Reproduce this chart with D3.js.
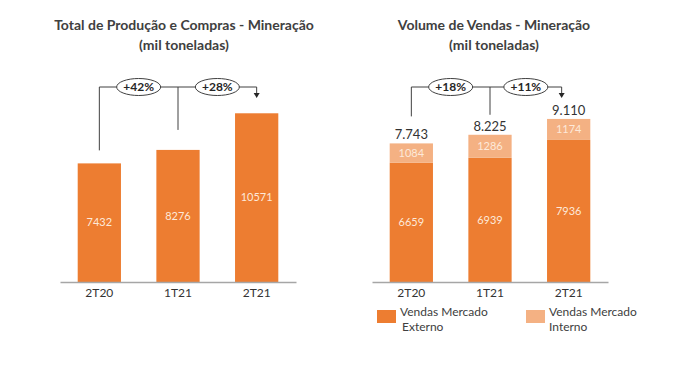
<!DOCTYPE html>
<html lang="pt">
<head>
<meta charset="UTF-8">
<title>Mineração</title>
<script src="https://d3js.org/d3.v7.min.js"></script>
<style>
    body { margin: 0; padding: 0; background: #fff; font-family: Lato, "Open Sans", sans-serif; }
    svg { display: block; }
    .title { font-size: 14px; font-weight: bold; fill: #404040; text-anchor: middle; }
    .axis path { stroke: #a6a6a6; stroke-width: 1.5px; }
    .axis text { font-size: 12px; fill: #333; font-family: Lato, sans-serif; }
    .inner { font-size: 11px; fill: #fde9d9; text-anchor: middle; dominant-baseline: middle; }
    .total { font-size: 13px; fill: #333; text-anchor: middle; }
    .conn { stroke: #404040; stroke-width: 1px; fill: none; }
    .pct { font-size: 12px; font-weight: bold; fill: #262626; text-anchor: middle; dominant-baseline: middle; }
    .legend { font-size: 12px; fill: #404040; }
</style>
</head>
<body>
<svg id="chart" width="700" height="370"></svg>
<script>
    // dados
    const periods = ["2T20", "1T21", "2T21"];
    const producao = [7432, 8276, 10571];
    const externo = [6659, 6939, 7936];
    const interno = [1084, 1286, 1174];
    const growthProd = ["+42%", "+28%"];
    const growthVendas = ["+18%", "+11%"];
    const seriesNames = ["Vendas Mercado Externo", "Vendas Mercado Interno"];

    const darkOrange = "#ed7d31";
    const lightOrange = "#f4b183";

    const ptBR = d3.formatLocale({ decimal: ",", thousands: ".", grouping: [3], currency: ["R$", ""] });
    const fmtTotal = ptBR.format(",");

    const svg = d3.select("#chart");
    const baseY = 282;

    function drawChart(opt) {
        const g = svg.append("g");

        const x = d3.scaleBand()
            .domain(periods)
            .range(opt.xRange)
            .paddingInner(0.45)
            .paddingOuter(0.225);

        const y = d3.scaleLinear()
            .domain([0, opt.yMax])
            .range([baseY, baseY - opt.yMax * opt.pxPerUnit]);

        // titulo
        g.append("text").attr("class", "title")
            .attr("x", opt.titleX).attr("y", 30).text(opt.title);
        g.append("text").attr("class", "title")
            .attr("x", opt.titleX).attr("y", 50).text("(mil toneladas)");

        // barras empilhadas
        opt.stacks.forEach((s, i) => {
            const bottoms = periods.map((p, j) => d3.sum(opt.stacks.slice(0, i), t => t.values[j]));
            g.selectAll(null)
                .data(s.values)
                .enter()
                .append("rect")
                .attr("x", (d, j) => x(periods[j]))
                .attr("width", x.bandwidth())
                .attr("y", (d, j) => y(bottoms[j] + d))
                .attr("height", (d, j) => y(bottoms[j]) - y(bottoms[j] + d))
                .attr("fill", s.color);

            g.selectAll(null)
                .data(s.values)
                .enter()
                .append("text")
                .attr("class", "inner")
                .attr("x", (d, j) => x(periods[j]) + x.bandwidth() / 2)
                .attr("y", (d, j) => (y(bottoms[j] + d) + y(bottoms[j])) / 2 + 1)
                .text(d => d);
        });

        const totals = periods.map((p, j) => d3.sum(opt.stacks, s => s.values[j]));

        if (opt.showTotals) {
            g.selectAll(null)
                .data(totals)
                .enter()
                .append("text")
                .attr("class", "total")
                .attr("x", (d, j) => x(periods[j]) + x.bandwidth() / 2)
                .attr("y", d => y(d) - 4)
                .text(d => fmtTotal(d));
        }

        // eixo
        g.append("g")
            .attr("class", "axis")
            .attr("transform", `translate(0,${baseY})`)
            .call(d3.axisBottom(x).tickSize(0).tickPadding(6))
            .call(a => a.select(".domain").attr("stroke", "#a6a6a6"));

        // conectores de crescimento
        const cx = j => x(periods[j]) + x.bandwidth() / 2;
        const lineY = 87;
        const arrowX = cx(2) + opt.arrowShift;
        g.append("path").attr("class", "conn")
            .attr("d", `M${cx(0)},${y(totals[0]) - opt.gap[0]}V${lineY}H${arrowX}V${lineY + 6}`);
        g.append("path").attr("class", "conn")
            .attr("d", `M${cx(1)},${y(totals[1]) - opt.gap[1]}V${lineY}`);
        g.append("path")
            .attr("d", `M${arrowX - 3},${lineY + 6}L${arrowX + 3},${lineY + 6}L${arrowX},${lineY + 11}Z`)
            .attr("fill", "#262626");

        const mids = [(cx(0) + cx(1)) / 2, (cx(1) + arrowX) / 2];
        opt.growth.forEach((t, k) => {
            g.append("ellipse")
                .attr("cx", mids[k]).attr("cy", lineY)
                .attr("rx", 22).attr("ry", 8.5)
                .attr("fill", "#fff").attr("stroke", "#404040").attr("stroke-width", 1);
            g.append("text").attr("class", "pct")
                .attr("x", mids[k]).attr("y", lineY + 1).text(t);
        });
    }

    drawChart({
        title: "Total de Produção e Compras - Mineração",
        titleX: 184,
        xRange: [60, 296],
        yMax: 11000,
        pxPerUnit: 0.01596,
        stacks: [{ values: producao, color: darkOrange }],
        showTotals: false,
        growth: growthProd,
        gap: [13, 20],
        arrowShift: 0
    });

    drawChart({
        title: "Volume de Vendas - Mineração",
        titleX: 494,
        xRange: [372, 608],
        yMax: 10000,
        pxPerUnit: 0.0179,
        stacks: [
            { values: externo, color: darkOrange },
            { values: interno, color: lightOrange }
        ],
        showTotals: true,
        growth: growthVendas,
        gap: [27, 20],
        arrowShift: -7
    });

    // legenda
    const legend = svg.append("g").attr("transform", "translate(377,310)");
    const legColors = [darkOrange, lightOrange];
    seriesNames.forEach((name, i) => {
        const lg = legend.append("g").attr("transform", `translate(${i * 149},0)`);
        lg.append("rect").attr("width", 19).attr("height", 13).attr("fill", legColors[i]);
        const words = name.split(" ");
        lg.append("text").attr("class", "legend")
            .attr("x", 23).attr("y", 6).text(words.slice(0, 2).join(" "));
        lg.append("text").attr("class", "legend")
            .attr("x", 25 - i * 2).attr("y", 21).text(words[2]);
    });
</script>
</body>
</html>
